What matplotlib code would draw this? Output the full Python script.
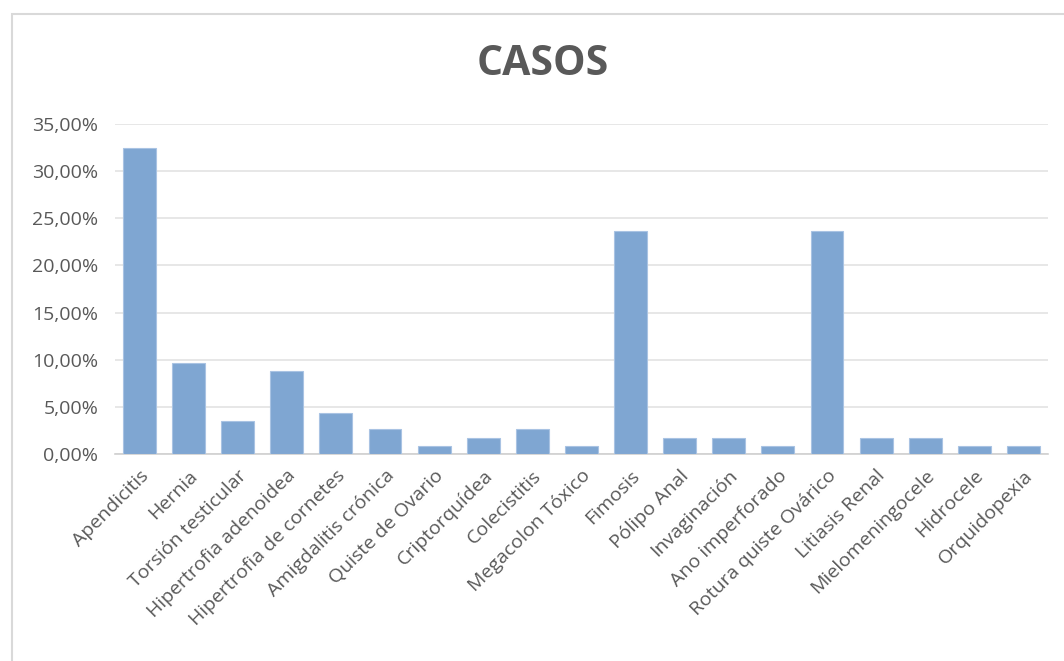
import matplotlib
matplotlib.use("Agg")
import matplotlib.pyplot as plt
from matplotlib.ticker import FuncFormatter, MultipleLocator
from matplotlib.patches import Rectangle

# datos (porcentaje de casos)
categorias = ["Apendicitis", "Hernia", "Torsión testicular", "Hipertrofia adenoidea",
              "Hipertrofia de cornetes", "Amigdalitis crónica", "Quiste de Ovario",
              "Criptorquídea", "Colecistitis", "Megacolon Tóxico", "Fimosis",
              "Pólipo Anal", "Invaginación", "Ano imperforado", "Rotura quiste Ovárico",
              "Litiasis Renal", "Mielomeningocele", "Hidrocele", "Orquidopexia"]
porcentajes = [32.46, 9.65, 3.51, 8.77, 4.39, 2.63, 0.88, 1.75, 2.63, 0.88, 23.68,
               1.75, 1.75, 0.88, 23.68, 1.75, 1.75, 0.88, 0.88]

plt.rcParams['font.family'] = ['Open Sans', 'DejaVu Sans']

fig = plt.figure(figsize=(10.64, 6.61), dpi=100, facecolor='white')
ax = fig.add_axes([0.108, 0.313, 0.877, 0.4995])

x = range(len(categorias))
ax.bar(x, porcentajes, width=0.67, color='#7FA6D2', edgecolor='#A9C3E3', linewidth=0.8, zorder=3)

ax.set_xlim(-0.5, len(categorias) - 0.5)
ax.set_ylim(0, 35)
ax.yaxis.set_major_locator(MultipleLocator(5))
ax.yaxis.set_major_formatter(FuncFormatter(lambda v, p: ("%.2f%%" % v).replace('.', ',')))
ax.grid(axis='y', color='#E3E3E3', linewidth=1.2, zorder=0)

for s in ['top', 'right', 'left']:
    ax.spines[s].set_visible(False)
ax.spines['bottom'].set_color('#D0D0D0')
ax.spines['bottom'].set_linewidth(1.2)

ax.set_xticks(list(x))
ax.set_xticklabels(categorias, rotation=45, ha='right', rotation_mode='anchor')
ax.tick_params(axis='both', length=0, labelsize=14, labelcolor='#595959')
ax.tick_params(axis='y', pad=12)
ax.tick_params(axis='x', pad=9)

fig.text(0.51, 0.903, "CASOS", ha='center', va='center', fontsize=29.5,
         fontweight='bold', color='#595959')

# marco del gráfico
fig.patches.append(Rectangle((12 / 1064, -0.1), 1.2, 1 - 14 / 661 + 0.1,
                             transform=fig.transFigure, fill=False,
                             edgecolor='#D9D9D9', linewidth=1.5))

fig.savefig("out.png", dpi=100, facecolor='white')
